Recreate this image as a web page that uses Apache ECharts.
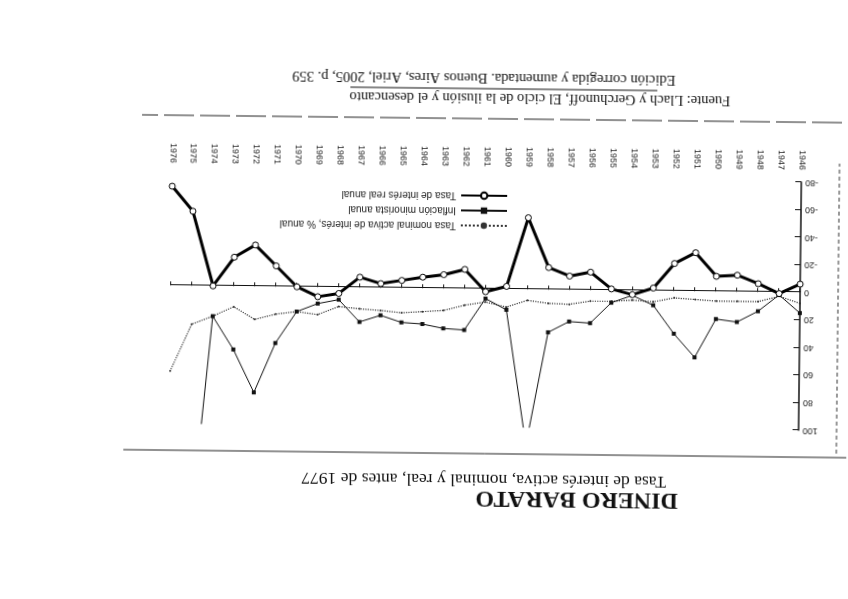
<!DOCTYPE html>
<html>
<head>
<meta charset="utf-8">
<script src="https://cdn.jsdelivr.net/npm/echarts@6/dist/echarts.min.js"></script>
<style>
html,body{margin:0;padding:0;background:#fff;}
#c{width:848px;height:599px;transform:rotate(180.64deg);transform-origin:50% 50%;}
</style>
</head>
<body>
<div id="c"></div>
<script>
// Categories (years)
const years = ['1946','1947','1948','1949','1950','1951','1952','1953','1954','1955',
  '1956','1957','1958','1959','1960','1961','1962','1963','1964','1965',
  '1966','1967','1968','1969','1970','1971','1972','1973','1974','1975','1976'];
// Tasa de interés real anual
const realRate = [-6, 1, -6, -12, -11, -28, -20, -2, 3, -1,
  -13, -10, -16, -52, -2, 2, -14, -10, -8, -5.5,
  -3, -7.5, 4.5, 7, 0, -15, -30, -21, 0, -54, -72];
// Inflación minorista anual
const inflation = [15, 2, 14, 22, 20, 48, 31, 10.5, 3.5, 9,
  24, 23, 31, 113, 15, 7, 30, 29, 26, 25,
  20, 25, 9, 12, 18, 41, 77, 46, 22, 183, 444];
// Tasa nominal activa de interés, % anual
const nominal = [8, 3, 7, 7, 7, 6, 5, 8, 7, 8,
  8, 10.5, 10, 8, 13, 9.5, 12, 16, 17, 18,
  16.5, 15.5, 14, 20, 18, 20, 24, 15, 22, 28, 62];
// Y axis ticks
const yMin = -80, yMax = 100, yStep = 20;

const titleText = 'DINERO BARATO';
const subtitleText = 'Tasa de interés activa, nominal y real, antes de 1977';
const sourceLine1 = 'Fuente: Llach y Gerchunoff, El ciclo de la ilusión y el desencanto';
const sourceLine2 = 'Edición corregida y aumentada. Buenos Aires, Ariel, 2005, p. 359';

const serif = '"Liberation Serif", "DejaVu Serif", serif';
const sans = '"Liberation Sans", Arial, sans-serif';

const chart = echarts.init(document.getElementById('c'), null, {renderer: 'canvas'});
chart.setOption({
  animation: false,
  backgroundColor: '#fff',
  grid: {left: 48, right: 171, top: 173, bottom: 178, containLabel: false},
  legend: {
    orient: 'vertical', left: 336, top: 364, itemWidth: 46, itemHeight: 8, itemGap: 5,
    textStyle: {fontFamily: sans, fontSize: 10, color: '#222'},
    data: ['Tasa nominal activa de interés, % anual', 'Inflación minorista anual', 'Tasa de interés real anual']
  },
  xAxis: [
    {type: 'category', data: years, boundaryGap: false, position: 'bottom',
     axisLine: {show: false, onZero: false}, axisTick: {show: false},
     axisLabel: {rotate: 90, interval: 0, fontSize: 9, fontFamily: sans, color: '#222', margin: 12}},
    {type: 'category', data: years, boundaryGap: false, position: 'bottom',
     axisLine: {show: true, onZero: true, lineStyle: {color: '#111', width: 1.2}},
     axisTick: {show: true, length: 4, interval: 0, lineStyle: {color: '#111'}},
     axisLabel: {show: false}}
  ],
  yAxis: {
    type: 'value', min: yMin, max: yMax, interval: yStep,
    axisLine: {show: true, lineStyle: {color: '#111', width: 1.5}},
    axisTick: {show: true, inside: true, length: 6, lineStyle: {color: '#111'}},
    axisLabel: {fontSize: 9, fontFamily: sans, color: '#222', margin: 4},
    splitLine: {show: false}
  },
  series: [
    {name: 'Tasa nominal activa de interés, % anual', type: 'line', data: nominal,
     symbol: 'circle', symbolSize: 2, showSymbol: true,
     lineStyle: {type: 'dotted', width: 1.2, color: '#333'}, itemStyle: {color: '#333'}, z: 2},
    {name: 'Inflación minorista anual', type: 'line', data: inflation,
     symbol: 'rect', symbolSize: 4,
     lineStyle: {type: 'solid', width: 1, color: '#111'}, itemStyle: {color: '#111'}, z: 3},
    {name: 'Tasa de interés real anual', type: 'line', data: realRate,
     symbol: 'circle', symbolSize: 6,
     lineStyle: {width: 3, color: '#000'}, itemStyle: {color: '#fff', borderColor: '#000', borderWidth: 1}, z: 4}
  ],
  graphic: [
    {type: 'text', left: 168, top: 90, style: {text: titleText, font: 'bold 24px ' + serif, fill: '#111'}},
    {type: 'text', left: 180, top: 111, style: {text: subtitleText, font: '17.5px ' + serif, fill: '#111'}},
    {type: 'line', shape: {x1: 0, y1: 146, x2: 723, y2: 146}, style: {stroke: '#222', lineWidth: 1}},
    {type: 'line', shape: {x1: 8, y1: 481, x2: 708, y2: 481}, style: {stroke: '#222', lineWidth: 1, lineDash: [30, 6]}},
    {type: 'line', shape: {x1: 10, y1: 150, x2: 10, y2: 440}, style: {stroke: '#333', lineWidth: 1, lineDash: [4, 3]}},
    {type: 'text', left: 120, top: 495, style: {text: sourceLine1, font: '14.5px ' + serif, fill: '#111'}},
    {type: 'line', shape: {x1: 193, y1: 511, x2: 500, y2: 511}, style: {stroke: '#111', lineWidth: 1}},
    {type: 'text', left: 175, top: 515, style: {text: sourceLine2, font: '14.5px ' + serif, fill: '#111'}}
  ]
});
</script>
</body>
</html>
